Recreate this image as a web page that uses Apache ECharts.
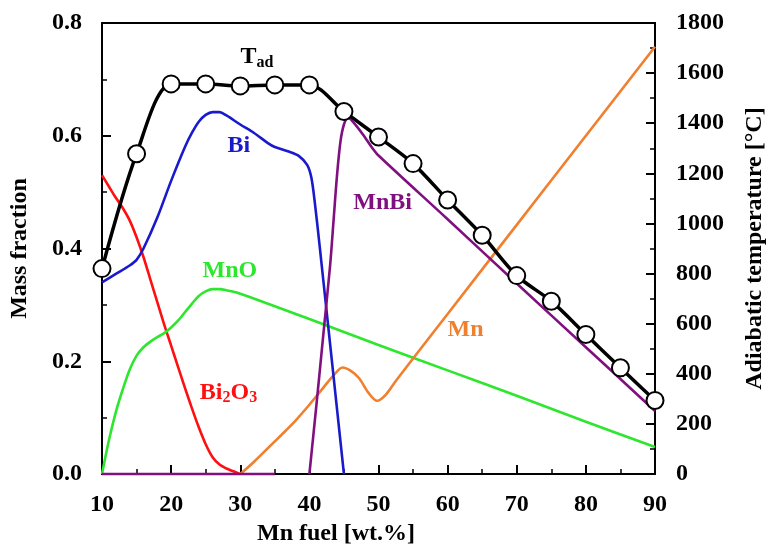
<!DOCTYPE html>
<html>
<head>
<meta charset="utf-8">
<script src="https://cdn.jsdelivr.net/npm/echarts@6/dist/echarts.min.js"></script>
<style>
html,body{margin:0;padding:0;background:#fff;}
#chart{width:775px;height:551px;}
</style>
</head>
<body>
<div id="chart"></div>
<script>
// ---- data ----
var xTicks = [10, 20, 30, 40, 50, 60, 70, 80, 90];
var tadX = [10, 15, 20, 25, 30, 35, 40, 45, 50, 55, 60, 65, 70, 75, 80, 85, 90];
var tadValues = [820, 1278, 1557, 1557, 1549, 1553, 1553, 1447, 1345, 1239, 1094, 953, 792, 690, 557, 424, 294];

var biX = [10, 12, 14, 15, 16, 18, 20, 22, 23, 24, 25, 26, 27, 28, 30, 32, 34, 35, 37, 38.5, 39.7, 40.3, 40.8, 41.5, 45];
var biValues = [0.34, 0.355, 0.37, 0.38, 0.40, 0.455, 0.52, 0.58, 0.605, 0.625, 0.637, 0.642, 0.642, 0.636, 0.62, 0.605, 0.587, 0.58, 0.572, 0.564, 0.548, 0.525, 0.48, 0.403, 0.0];

var bi2o3X = [10, 11, 12, 13, 14, 15, 16, 17, 18, 19, 20, 21, 22, 23, 24, 25, 26, 27, 28, 29, 30];
var bi2o3Values = [0.53, 0.51, 0.49, 0.472, 0.45, 0.42, 0.385, 0.345, 0.305, 0.265, 0.228, 0.19, 0.153, 0.117, 0.083, 0.053, 0.03, 0.017, 0.01, 0.005, 0.0];

var mnoX = [10, 11, 12, 13, 14, 15, 16, 17, 18, 19, 20, 21, 22, 23, 24, 25, 26, 27, 28, 30, 40, 50, 60, 70, 80, 90];
var mnoValues = [0.0, 0.06, 0.11, 0.15, 0.185, 0.21, 0.225, 0.235, 0.243, 0.25, 0.26, 0.272, 0.287, 0.302, 0.316, 0.324, 0.328, 0.328, 0.326, 0.32, 0.275, 0.229, 0.184, 0.139, 0.093, 0.048];

var mnbiX = [10, 35, 37, 40, 41, 42, 43, 43.5, 44, 44.5, 45, 45.6, 46.5, 48, 49, 50, 60, 70, 80, 90];
var mnbiValues = [0.0, 0.0, null, 0.0, 0.12, 0.245, 0.37, 0.45, 0.53, 0.59, 0.62, 0.632, 0.622, 0.598, 0.58, 0.565, 0.452, 0.338, 0.225, 0.112];

var mnX = [30, 32, 34, 36, 38, 40, 42, 43.5, 44.8, 46, 47.2, 48.5, 49.8, 51, 52.5, 55, 60, 70, 80, 90];
var mnValues = [0.0, 0.022, 0.046, 0.07, 0.095, 0.123, 0.153, 0.175, 0.189, 0.183, 0.17, 0.145, 0.13, 0.14, 0.165, 0.205, 0.284, 0.442, 0.60, 0.758];

// label anchor positions (data coords)
var labelBi = [29.8, 0.582];
var labelMnO = [28.5, 0.361];
var labelBi2O3 = [28.3, 0.145];
var labelMnBi = [50.6, 0.481];
var labelMn = [62.6, 0.256];
var labelTad = [32.4, 1665];

function pairs(xs, ys) {
  return xs.map(function (x, i) { return [x, ys[i]]; });
}

var FONT = "'Times New Roman', 'Liberation Serif', serif";
var C_BLUE = '#1a1acd', C_RED = '#ff1010', C_GREEN = '#2ee62e', C_PURPLE = '#800f80', C_ORANGE = '#f07f2e';

function annot(coord, text, color, rich) {
  return {
    silent: true,
    symbol: 'circle',
    symbolSize: 0,
    data: [{ coord: coord }],
    label: {
      show: true, position: 'inside', formatter: text,
      color: color, fontFamily: FONT, fontWeight: 'bold', fontSize: 24,
      rich: rich || {}
    }
  };
}

function lineSeries(name, xs, ys, color, mark, richObj) {
  return {
    name: name, type: 'line', data: pairs(xs, ys), yAxisIndex: 0,
    smooth: 0.3, showSymbol: false, symbol: 'none', connectNulls: false,
    lineStyle: { color: color, width: 2.6 }, itemStyle: { color: color },
    z: 3,
    markPoint: annot(mark.coord, mark.text, color, richObj)
  };
}

var subRich = function (color) {
  return {
    a: { fontSize: 24, fontWeight: 'bold', fontFamily: FONT, color: color },
    s: { fontSize: 16, fontWeight: 'bold', fontFamily: FONT, color: color, padding: [12, 0, 0, 0] }
  };
};

var chart = echarts.init(document.getElementById('chart'), null, { renderer: 'canvas' });

var axisLabelStyle = { color: '#000', fontFamily: FONT, fontWeight: 'bold', fontSize: 24 };

var option = {
  animation: false,
  backgroundColor: '#ffffff',
  grid: { left: 102, right: 105, top: 23, bottom: 70, show: true, borderColor: '#000', borderWidth: 2, backgroundColor: 'transparent' },
  xAxis: {
    type: 'value', min: 10, max: 90, interval: 10,
    axisLine: { show: true, onZero: false, lineStyle: { color: '#000', width: 2 } },
    axisTick: { show: true, inside: true, length: 9, lineStyle: { color: '#000', width: 2 } },
    minorTick: { show: true, splitNumber: 2, length: 5, lineStyle: { color: '#000', width: 1.5 } },
    splitLine: { show: false },
    axisLabel: Object.assign({ margin: 19 }, axisLabelStyle),
    name: 'Mn fuel [wt.%]', nameLocation: 'middle', nameGap: 46,
    nameTextStyle: { color: '#000', fontFamily: FONT, fontWeight: 'bold', fontSize: 24, padding: [0, 85, 0, 0] }
  },
  yAxis: [
    {
      type: 'value', min: 0, max: 0.8, interval: 0.2, position: 'left',
      axisLine: { show: true, lineStyle: { color: '#000', width: 2 } },
      axisTick: { show: true, inside: true, length: 9, lineStyle: { color: '#000', width: 2 } },
      minorTick: { show: true, splitNumber: 2, length: 5, lineStyle: { color: '#000', width: 1.5 } },
      splitLine: { show: false },
      axisLabel: Object.assign({ margin: 20, formatter: function (v) { return v.toFixed(1); } }, axisLabelStyle),
      name: 'Mass fraction', nameLocation: 'middle', nameGap: 70, nameRotate: 90,
      nameTextStyle: { color: '#000', fontFamily: FONT, fontWeight: 'bold', fontSize: 24 }
    },
    {
      type: 'value', min: 0, max: 1800, interval: 200, position: 'right',
      axisLine: { show: true, lineStyle: { color: '#000', width: 2 } },
      axisTick: { show: true, inside: true, length: 9, lineStyle: { color: '#000', width: 2 } },
      minorTick: { show: true, splitNumber: 2, length: 5, lineStyle: { color: '#000', width: 1.5 } },
      splitLine: { show: false },
      axisLabel: Object.assign({ margin: 21, formatter: function (v) { return String(v); } }, axisLabelStyle),
      name: 'Adiabatic temperature [°C]', nameLocation: 'middle', nameGap: 88, nameRotate: 90,
      nameTextStyle: { color: '#000', fontFamily: FONT, fontWeight: 'bold', fontSize: 24 }
    }
  ],
  series: [
    lineSeries('Bi2O3', bi2o3X, bi2o3Values, C_RED, { coord: labelBi2O3, text: '{a|Bi}{s|2}{a|O}{s|3}' }, subRich(C_RED)),
    lineSeries('MnO', mnoX, mnoValues, C_GREEN, { coord: labelMnO, text: 'MnO' }),
    lineSeries('Mn', mnX, mnValues, C_ORANGE, { coord: labelMn, text: 'Mn' }),
    lineSeries('Bi', biX, biValues, C_BLUE, { coord: labelBi, text: 'Bi' }),
    lineSeries('MnBi', mnbiX, mnbiValues, C_PURPLE, { coord: labelMnBi, text: 'MnBi' }),
    {
      name: 'Tad', type: 'line', yAxisIndex: 1, data: pairs(tadX, tadValues),
      smooth: 0.3, symbol: 'circle', symbolSize: 17, showSymbol: true,
      lineStyle: { color: '#000', width: 3.5 },
      itemStyle: { color: '#ffffff', borderColor: '#000', borderWidth: 2 },
      z: 5,
      markPoint: annot(labelTad, '{a|T}{s|ad}', '#000', subRich('#000'))
    }
  ]
};
chart.setOption(option);
</script>
</body>
</html>
